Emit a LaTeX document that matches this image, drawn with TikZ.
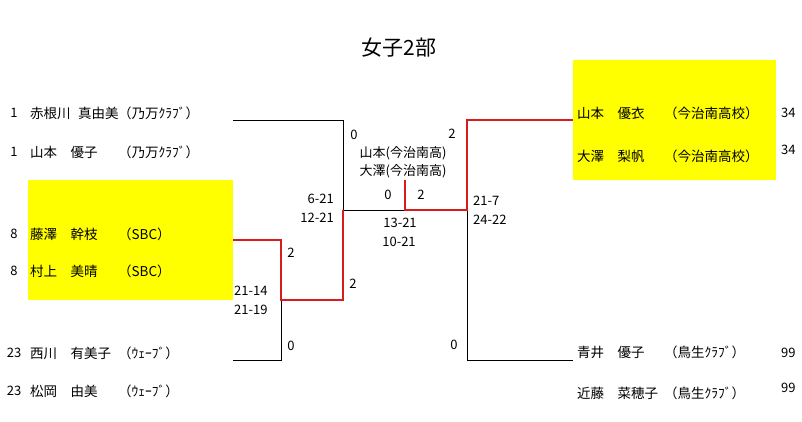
\documentclass[tikz,border=0pt]{standalone}
\usepackage{fontspec}
\setmainfont{Noto Sans CJK JP}
\definecolor{winred}{RGB}{216,28,28}
\definecolor{hiyel}{RGB}{255,255,0}
\newcommand{\zsp}{\hspace{1em}}
\begin{document}
\begin{tikzpicture}[x=1pt,y=-1pt,
  txt/.style={inner sep=0pt,text height=9.5pt,text depth=0pt,font=\fontsize{13}{15}\selectfont},
  lft/.style={txt,anchor=west},
  rgt/.style={txt,anchor=east},
  ctr/.style={txt,anchor=center},
  nm/.style={inner sep=0pt,text height=10.2pt,text depth=0pt,font=\fontsize{13.5}{16}\selectfont,anchor=west},
  hilite/.style={fill=hiyel,draw=none,inner sep=0pt,anchor=north west},
  loser/.style={line width=1pt,black},
  winner/.style={line width=2.4pt,winred,line join=miter}
]
\useasboundingbox (0,0) rectangle (802,421);
% highlight boxes
\node[hilite,minimum width=205pt,minimum height=120pt] (yl) at (28,180) {};
\node[hilite,minimum width=203pt,minimum height=120pt] (yr) at (573,60) {};
% title
\node[inner sep=0pt,font=\fontsize{21}{25}\selectfont] (title) at (399,48) {女子2部};
% left entries
\node[ctr] (s1) at (14,113) {1};
\node[nm] (n1) at (30,113) {赤根川\hspace{0.55em}真由美};
\node[nm] (c1) at (118,113) {（乃万ｸﾗﾌﾞ）};
\node[ctr] (s2) at (14,152) {1};
\node[nm] (n2) at (30,152) {山本\zsp 優子};
\node[nm] (c2) at (118,152) {（乃万ｸﾗﾌﾞ）};
\node[ctr] (s3) at (14,234) {8};
\node[nm] (n3) at (30,234) {藤澤\zsp 幹枝};
\node[nm] (c3) at (118,234) {（SBC）};
\node[ctr] (s4) at (14,271) {8};
\node[nm] (n4) at (30,271) {村上\zsp 美晴};
\node[nm] (c4) at (118,271) {（SBC）};
\node[ctr] (s5) at (14,353) {23};
\node[nm] (n5) at (30,353) {西川\zsp 有美子};
\node[nm] (c5) at (118,353) {（ｳｪｰﾌﾞ）};
\node[ctr] (s6) at (14,391) {23};
\node[nm] (n6) at (30,391) {松岡\zsp 由美};
\node[nm] (c6) at (118,391) {（ｳｪｰﾌﾞ）};
% right entries
\node[nm] (n7) at (577,113) {山本\zsp 優衣};
\node[nm] (c7) at (664,113) {（今治南高校）};
\node[lft] (s7) at (781,113) {34};
\node[nm] (n8) at (577,156) {大澤\zsp 梨帆};
\node[nm] (c8) at (664,156) {（今治南高校）};
\node[lft] (s8) at (781,150) {34};
\node[nm] (n9) at (577,352) {青井\zsp 優子};
\node[nm] (c9) at (664,352) {（鳥生ｸﾗﾌﾞ）};
\node[lft] (s9) at (781,353) {99};
\node[nm] (n10) at (577,393) {近藤\zsp 菜穂子};
\node[nm] (c10) at (664,393) {（鳥生ｸﾗﾌﾞ）};
\node[lft] (s10) at (781,388) {99};
% bracket corners
\coordinate (a1) at (233,120);
\coordinate (a2) at (343,120);
\coordinate (a3) at (343,210);
\coordinate (a4) at (405,210);
\coordinate (b1) at (233,240);
\coordinate (b2) at (281,240);
\coordinate (b3) at (281,300);
\coordinate (b4) at (343,300);
\coordinate (d1) at (233,360);
\coordinate (d2) at (281,360);
\coordinate (f0) at (405,180);
\coordinate (f1) at (467,210);
\coordinate (f2) at (467,120);
\coordinate (f3) at (573,120);
\coordinate (e1) at (467,360);
\coordinate (e2) at (573,360);
% losing lines
\draw[loser] (a1) -- (a2) -- (a3) -- (a4);
\draw[loser] (d1) -- (d2) -- (b3);
\draw[loser] (f1) -- (e1) -- (e2);
% winning lines
\draw[winner] (b1) -- (b2) -- (b3) -- (b4) -- (a3);
\draw[winner] (f0) -- (a4) -- (f1) -- (f2) -- (f3);
% game scores
\node[ctr] (g1) at (354,135) {0};
\node[ctr] (g2) at (452,134) {2};
\node[ctr] (fin1) at (403,153) {山本(今治南高)};
\node[ctr] (fin2) at (403,171) {大澤(今治南高)};
\node[ctr] (g3) at (388,195) {0};
\node[ctr] (g4) at (421,195) {2};
\node[rgt] (p1) at (334,199) {6-21};
\node[rgt] (p2) at (334,218) {12-21};
\node[ctr] (p3) at (400,223) {13-21};
\node[ctr] (p4) at (399,242) {10-21};
\node[lft] (p5) at (473,201) {21-7};
\node[lft] (p6) at (473,220) {24-22};
\node[ctr] (g5) at (291,253) {2};
\node[ctr] (g6) at (353,284) {2};
\node[lft] (p7) at (234,291) {21-14};
\node[lft] (p8) at (234,310) {21-19};
\node[ctr] (g7) at (291,346) {0};
\node[ctr] (g8) at (454,345) {0};
\end{tikzpicture}
\end{document}
